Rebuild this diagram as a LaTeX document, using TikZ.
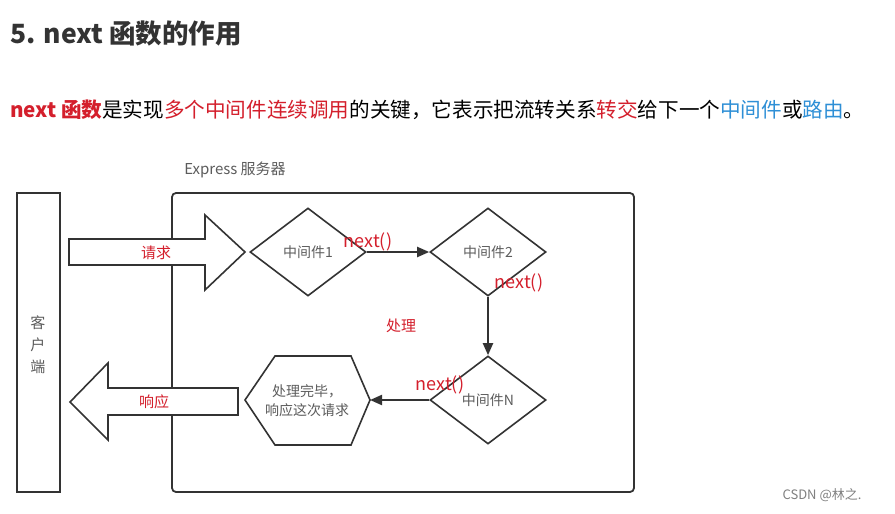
\documentclass[tikz,border=0pt]{standalone}
\usepackage{fontspec}
\setmainfont{Noto Sans CJK SC}
\usetikzlibrary{shapes.geometric,arrows.meta}
\definecolor{rd}{HTML}{D41F2C}
\definecolor{bl}{HTML}{2E8FD6}
\definecolor{ln}{HTML}{333333}
\begin{document}
\begin{tikzpicture}[x=1pt,y=-1pt,
 box/.style={draw=ln,line width=1.8pt},
 dia/.style={draw=ln,line width=1.6pt,diamond,aspect=1.32,minimum width=116pt,minimum height=88pt,inner sep=0pt,font=\fontsize{14}{16}\selectfont,text=ln!80},
 con/.style={draw=ln,line width=2pt,-{Triangle[length=12pt,width=10pt]}},
 nx/.style={text=rd,font=\fontsize{18}{20}\selectfont},
 lbl/.style={text=rd,font=\fontsize{15}{17}\selectfont}]
\useasboundingbox (0,0) rectangle (895,514);
\fill[white] (0,0) rectangle (895,514);
\node[anchor=west,font=\bfseries\fontsize{26.5}{30}\selectfont,text=ln,inner sep=0pt] (title) at (10,33) {5. next 函数的作用};
\node[anchor=west,font=\fontsize{20.6}{24}\selectfont,text=black,inner sep=0pt] (desc) at (10,110) {\textcolor{rd}{\bfseries next 函数}是实现\textcolor{rd}{多个中间件连续调用}的关键，它表示把流转关系\textcolor{rd}{转交}给下一个\textcolor{bl}{中间件}或\textcolor{bl}{路由}。};
\node[font=\fontsize{15}{17}\selectfont,text=ln!80] (exp) at (235,170) {Express 服务器};
\draw[box] (17,193) rectangle (60,492);
\node[align=center,font=\fontsize{15}{22}\selectfont,text=ln!80] (cli) at (38,345) {客\\户\\端};
\draw[box,rounded corners=4pt] (172,193) rectangle (634,492);
\draw[draw=ln,line width=1.6pt,fill=white] (69,239) -- (205,239) -- (205,215) -- (245,252) -- (205,290) -- (205,265) -- (69,265) -- cycle;
\node[lbl] (req) at (156,253) {请求};
\draw[draw=ln,line width=1.6pt,fill=white] (70,402) -- (108,363) -- (108,388) -- (238,388) -- (238,415) -- (108,415) -- (108,440) -- cycle;
\node[lbl] (resp) at (154,402) {响应};
\node[dia] (d1) at (308,252) {中间件1};
\node[dia] (d2) at (488,252) {中间件2};
\node[dia] (dn) at (488,400) {中间件N};
\draw[draw=ln,line width=1.6pt] (275,356) -- (351,356) -- (370,400) -- (351,445) -- (275,445) -- (245,400) -- cycle;
\coordinate (hexr) at (370,400);
\node[align=center,font=\fontsize{14}{19}\selectfont,text=ln!80] (hex) at (307,401) {处理完毕，\\响应这次请求};
\draw[con] (d1.east) -- (d2.west);
\draw[con] (d2.south) -- (dn.north);
\draw[con] (dn.west) -- (hexr);
\node[nx] (n1) at (368,242) {next()};
\node[nx] (n2) at (519,283) {next()};
\node[nx] (n3) at (440,385) {next()};
\node[lbl] (proc) at (401,326) {处理};
\node[text=gray,font=\fontsize{13}{15}\selectfont] (wm) at (822,495) {CSDN @林之.};
\end{tikzpicture}
\end{document}
